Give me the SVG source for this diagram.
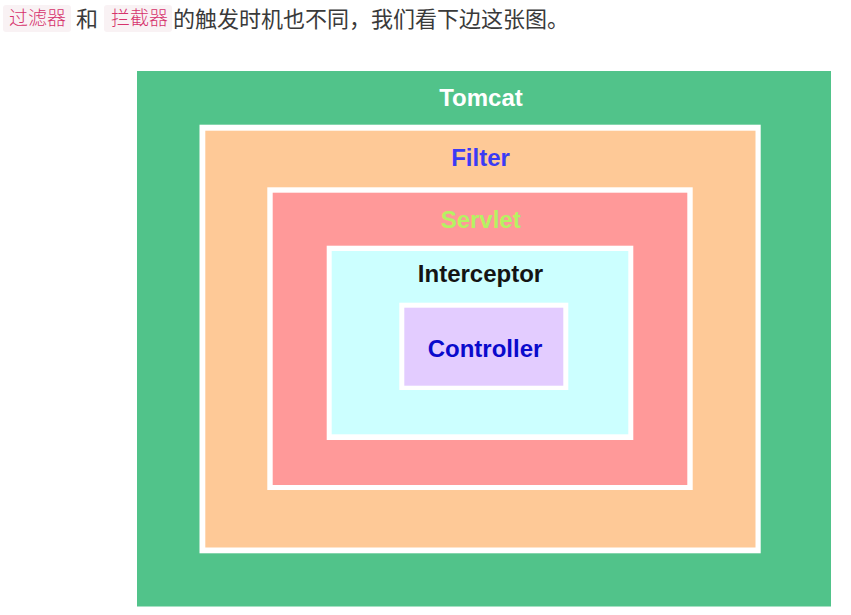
<svg xmlns="http://www.w3.org/2000/svg" width="851" height="615" viewBox="0 0 851 615">
<style>
.hdr{font-family:"Noto Sans CJK SC","Noto Sans",sans-serif;font-size:22px;fill:#3a3a3a}
.chip{fill:#f9f2f4}
.code{font-family:"Noto Sans CJK SC","Noto Sans",sans-serif;font-size:19px;font-weight:300;fill:#d6336c}
.lbl{font-family:"Liberation Sans",Arial,sans-serif;font-size:24px;font-weight:bold;text-anchor:middle}
.frame{fill:#ffffff}
</style>
<rect width="851" height="615" fill="#ffffff"/>
<g id="header">
<rect class="chip" x="3" y="5" width="68" height="27" rx="3"/>
<text class="code" x="9" y="25">过滤器</text>
<text class="hdr" x="76" y="27">和</text>
<rect class="chip" x="104" y="5" width="68" height="27" rx="3"/>
<text class="code" x="111" y="25">拦截器</text>
<text class="hdr" x="173" y="27">的触发时机也不同，我们看下边这张图。</text>
</g>
<g id="tomcat">
<rect x="137" y="71" width="694" height="535.5" fill="#51c38a"/>
<text class="lbl" x="481" y="106" fill="#ffffff">Tomcat</text>
</g>
<g id="filter">
<rect class="frame" x="199.5" y="124.7" width="561.2" height="428.6"/>
<rect x="205.3" y="130.7" width="550.2" height="416.8" fill="#fec997"/>
<text class="lbl" x="480.5" y="166" fill="#3b3bf5">Filter</text>
</g>
<g id="servlet">
<rect class="frame" x="267.3" y="187.3" width="425.4" height="302.7"/>
<rect x="272.7" y="192.7" width="414.6" height="292.3" fill="#ff9999"/>
<text class="lbl" x="480.7" y="227.7" fill="#b5f262">Servlet</text>
</g>
<g id="interceptor">
<rect class="frame" x="326.7" y="245.7" width="306.6" height="194.3"/>
<rect x="331.7" y="251" width="296.6" height="183.3" fill="#ccffff"/>
<text class="lbl" x="480.5" y="282.3" fill="#141414">Interceptor</text>
</g>
<g id="controller">
<rect class="frame" x="399.3" y="302.7" width="169" height="87.3"/>
<rect x="404.3" y="307.7" width="159" height="78" fill="#e3ccff"/>
<text class="lbl" x="485" y="357.3" fill="#0a0acc">Controller</text>
</g>
<g id="connectors"/>
</svg>
